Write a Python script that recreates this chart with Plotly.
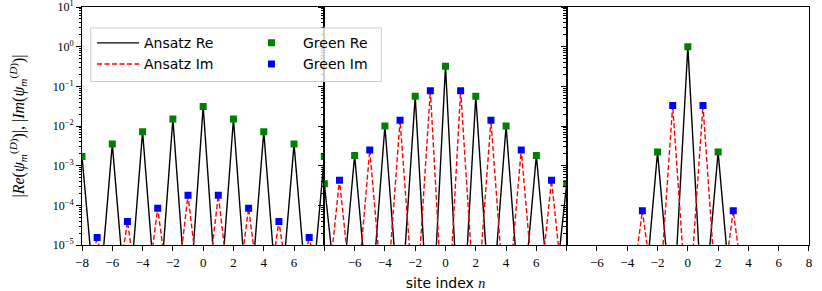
import plotly.graph_objects as go
from plotly.subplots import make_subplots

# ---------------- data ----------------
n_sites = [-8, -7, -6, -5, -4, -3, -2, -1, 0, 1, 2, 3, 4, 5, 6, 7, 8]

# panel 1
ansatz_re_1 = [1.7e-3, 1e-7, 3.5e-3, 1e-7, 7.2e-3, 1e-7, 1.5e-2, 1e-7, 3.1e-2,
               1e-7, 1.5e-2, 1e-7, 7.2e-3, 1e-7, 3.5e-3, 1e-7, 1.7e-3]
ansatz_im_1 = [1e-7, 1.7e-5, 1e-7, 3.9e-5, 1e-7, 8.5e-5, 1e-7, 1.8e-4, 1e-7,
               1.8e-4, 1e-7, 8.5e-5, 1e-7, 3.9e-5, 1e-7, 1.7e-5, 1e-7]
green_re_n_1 = [-8, -6, -4, -2, 0, 2, 4, 6, 8]
green_re_1 = [1.7e-3, 3.5e-3, 7.2e-3, 1.5e-2, 3.1e-2, 1.5e-2, 7.2e-3, 3.5e-3, 1.7e-3]
green_im_n_1 = [-7, -5, -3, -1, 1, 3, 5, 7]
green_im_1 = [1.55e-5, 3.9e-5, 8.5e-5, 1.8e-4, 1.8e-4, 8.5e-5, 3.9e-5, 1.55e-5]

# panel 2
ansatz_re_2 = [3.5e-4, 1e-7, 1.8e-3, 1e-7, 1.0e-2, 1e-7, 5.6e-2, 1e-8, 0.32,
               1e-8, 5.6e-2, 1e-7, 1.0e-2, 1e-7, 1.8e-3, 1e-7, 3.5e-4]
ansatz_im_2 = [1e-7, 4.3e-4, 1e-7, 2.5e-3, 1e-7, 1.39e-2, 1e-7, 7.8e-2, 1e-8,
               7.8e-2, 1e-7, 1.39e-2, 1e-7, 2.5e-3, 1e-7, 4.3e-4, 1e-7]
green_re_n_2 = [-8, -6, -4, -2, 0, 2, 4, 6, 8]
green_re_2 = [3.5e-4, 1.8e-3, 1.0e-2, 5.6e-2, 0.32, 5.6e-2, 1.0e-2, 1.8e-3, 3.5e-4]
green_im_n_2 = [-7, -5, -3, -1, 1, 3, 5, 7]
green_im_2 = [4.3e-4, 2.5e-3, 1.39e-2, 7.8e-2, 7.8e-2, 1.39e-2, 2.5e-3, 4.3e-4]

# panel 3
ansatz_re_3 = [1e-9, 1e-9, 1e-9, 1e-9, 1e-8, 1e-7, 2.2e-3, 1e-7, 1.0,
               1e-7, 2.2e-3, 1e-7, 1e-8, 1e-9, 1e-9, 1e-9, 1e-9]
ansatz_im_3 = [1e-9, 1e-9, 1e-9, 1e-9, 1e-7, 7.3e-5, 1e-7, 3.3e-2, 1e-7,
               3.3e-2, 1e-7, 7.3e-5, 1e-7, 1e-9, 1e-9, 1e-9, 1e-9]
green_re_n_3 = [-2, 0, 2]
green_re_3 = [2.2e-3, 1.0, 2.2e-3]
green_im_n_3 = [-3, -1, 1, 3]
green_im_3 = [7.3e-5, 3.3e-2, 3.3e-2, 7.3e-5]

x_tick_vals = [-8, -6, -4, -2, 0, 2, 4, 6, 8]
x_tick_text_1 = ["−8", "−6", "−4", "−2", "0", "2", "4", "6", ""]
x_tick_text_2 = ["", "−6", "−4", "−2", "0", "2", "4", "6", ""]
x_tick_text_3 = ["", "−6", "−4", "−2", "0", "2", "4", "6", "8"]

y_tick_vals = [1e-5, 1e-4, 1e-3, 1e-2, 1e-1, 1e0, 1e1]
y_tick_text = ["10<sup>−5</sup>", "10<sup>−4</sup>", "10<sup>−3</sup>", "10<sup>−2</sup>",
               "10<sup>−1</sup>", "10<sup>0</sup>", "10<sup>1</sup>"]

panels = [
    (ansatz_re_1, ansatz_im_1, green_re_n_1, green_re_1, green_im_n_1, green_im_1, x_tick_text_1),
    (ansatz_re_2, ansatz_im_2, green_re_n_2, green_re_2, green_im_n_2, green_im_2, x_tick_text_2),
    (ansatz_re_3, ansatz_im_3, green_re_n_3, green_re_3, green_im_n_3, green_im_3, x_tick_text_3),
]

# ---------------- figure ----------------
fig = make_subplots(rows=1, cols=3, shared_yaxes=True, horizontal_spacing=0)

for i, (are, aim, grn, gre, gin, gim, ttext) in enumerate(panels):
    col = i + 1
    first = (i == 0)
    fig.add_trace(go.Scatter(x=n_sites, y=are, mode="lines", name="Ansatz Re",
                             line=dict(color="black", width=1.4),
                             legend="legend", legendgroup="are", showlegend=first),
                  row=1, col=col)
    fig.add_trace(go.Scatter(x=n_sites, y=aim, mode="lines", name="Ansatz Im",
                             line=dict(color="#ff0000", width=1.4, dash="5px,2.5px"),
                             legend="legend", legendgroup="aim", showlegend=first),
                  row=1, col=col)
    fig.add_trace(go.Scatter(x=grn, y=gre, mode="markers", name="Green Re",
                             marker=dict(symbol="square", size=7, color="#008000",
                                         line=dict(width=0)),
                             legend="legend2", legendgroup="gre", showlegend=first),
                  row=1, col=col)
    fig.add_trace(go.Scatter(x=gin, y=gim, mode="markers", name="Green Im",
                             marker=dict(symbol="square", size=7, color="#0000ff",
                                         line=dict(width=0)),
                             legend="legend2", legendgroup="gim", showlegend=first),
                  row=1, col=col)
    fig.update_xaxes(range=[-8, 8], tickmode="array", tickvals=x_tick_vals,
                     ticktext=ttext, row=1, col=col)

fig.update_xaxes(showline=True, mirror=True, linecolor="black", linewidth=1,
                 ticks="outside", ticklen=5, tickwidth=1, tickcolor="black",
                 showgrid=False, zeroline=False, automargin=False,
                 tickfont=dict(family="Liberation Serif", size=13, color="black"))
fig.update_yaxes(type="log", range=[-5, 1.001], tickmode="array", tickvals=y_tick_vals,
                 showline=True, mirror=True, linecolor="black", linewidth=1,
                 ticks="outside", ticklen=5, tickwidth=1, tickcolor="black",
                 minor=dict(ticks="outside", ticklen=2.5, tickwidth=0.8,
                            tickcolor="black", dtick="D1", showgrid=False),
                 showgrid=False, zeroline=False, automargin=False,
                 ticklabeloverflow="allow",
                 tickfont=dict(family="Liberation Serif", size=12, color="black"))
fig.update_yaxes(ticktext=y_tick_text, row=1, col=1)

fig.update_yaxes(title=dict(
    text="|<i>Re</i>(<i>ψ</i><sub><i>m</i></sub><sup>(<i>D</i>)</sup>)|, "
         "|<i>Im</i>(<i>ψ</i><sub><i>m</i></sub><sup>(<i>D</i>)</sup>)|",
    font=dict(family="Liberation Serif", size=16, color="black"), standoff=24),
    row=1, col=1)
fig.update_xaxes(title=dict(
    text="site index <span style='font-family:Liberation Serif'><i>n</i></span>",
    font=dict(family="DejaVu Sans", size=14, color="black"), standoff=10),
    row=1, col=2)

# legend frame
fig.add_shape(type="rect", xref="paper", yref="paper",
              x0=0.012, x1=0.4118, y0=0.687, y1=0.912,
              line=dict(color="#cccccc", width=1), fillcolor="rgba(255,255,255,0.8)",
              layer="above")

legend_font = dict(family="DejaVu Sans", size=14, color="black")
fig.update_layout(
    width=822, height=291,
    margin=dict(l=82, r=13, t=7, b=46),
    plot_bgcolor="white", paper_bgcolor="white",
    legend=dict(x=0.0138, y=0.915, xanchor="left", yanchor="top",
                bgcolor="rgba(0,0,0,0)", borderwidth=0, font=legend_font,
                traceorder="grouped", tracegroupgap=0, itemwidth=42),
    legend2=dict(x=0.2173, y=0.915, xanchor="left", yanchor="top",
                 bgcolor="rgba(0,0,0,0)", borderwidth=0, font=legend_font,
                 traceorder="grouped", tracegroupgap=0, itemwidth=53),
)

fig.write_html("out.html", config={"displayModeBar": False},
               post_script="document.body.style.margin='0';")
